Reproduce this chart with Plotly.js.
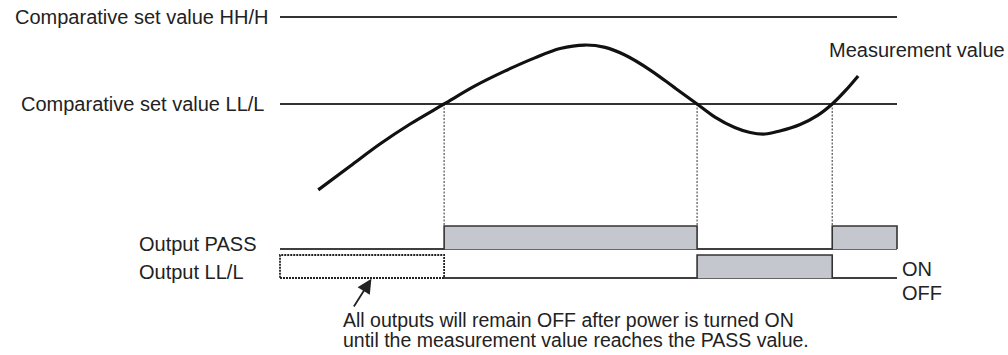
<!DOCTYPE html>
<html>
<head>
<meta charset="utf-8">
<script src="https://cdn.plot.ly/plotly-3.0.1.min.js"></script>
<style>html,body{margin:0;padding:0;background:#fff}#chart{width:1008px;height:355px}</style>
</head>
<body>
<div id="chart"></div>
<script>
// ---- data ----
// measurement curve (time units 0..100, measurement value units)
const timeMeas  = [6.2, 11.4, 16.2, 21.1, 26.6, 31.6, 36.5, 41.3, 45.4, 49.4, 52.7, 55.9, 60.0, 64.0, 67.6, 70.5, 73.7, 76.2, 78.6, 81.0, 84.3, 87.2, 89.5, 91.6, 93.7];
const measValue = [0.5, 11.5, 21.6, 30.8, 40.0, 48.3, 55.2, 61.2, 65.5, 67.1, 66.0, 62.5, 55.6, 47.4, 40.0, 34.0, 29.2, 26.9, 26.2, 27.6, 30.6, 34.9, 40.0, 46.0, 52.9];
// comparative set values
const setHH = 80;
const setLL = 40;
// time span of the diagram
const timeSpan = [0, 100];
// times at which the measurement crosses LL/L
const crossTimes = [26.6, 67.6, 89.5];
// output state change times and states (0 = OFF, 1 = ON)
const stateTimes = [0, 26.6, 67.6, 89.5, 100];
const passState  = [0, 1, 0, 1, 0];
const llState    = [null, 0, 1, 0, 0];   // null = undefined (outputs OFF after power ON)
// text
const labelHH = "Comparative set value HH/H";
const labelLL = "Comparative set value LL/L";
const labelMeas = "Measurement value";
const labelPass = "Output PASS";
const labelOutLL = "Output LL/L";
const noteLines = ["All outputs will remain OFF after power is turned ON",
                   "until the measurement value reaches the PASS value."];

// ---- axes ----
const xRange  = [-45.38, 117.99];
const y1Range = [-75.4, 87.8];
const y2Range = [-4.609, 10.826];
const y3Range = [-3.348, 12.087];
function y2ToY1(v) {
  const f = (v - y2Range[0]) / (y2Range[1] - y2Range[0]);
  return y1Range[0] + f * (y1Range[1] - y1Range[0]);
}

const font = {family: "Liberation Sans, Arial, Helvetica, sans-serif", size: 20, color: "#222"};
const noteFont = {family: "Liberation Sans, Arial, Helvetica, sans-serif", size: 19.5, color: "#222"};
const edge = "#333";
const barFill = "#c4c7ce";

const traces = [];
// set value lines
[setHH, setLL].forEach(v => traces.push({
  x: timeSpan, y: [v, v], mode: "lines", line: {color: edge, width: 2}, hoverinfo: "skip"
}));
// dotted verticals
crossTimes.forEach(t => traces.push({
  x: [t, t], y: [setLL, y2ToY1(1)], mode: "lines",
  line: {color: "#555", width: 1.2, dash: "2px,1.5px"}, hoverinfo: "skip"
}));
// measurement curve
traces.push({
  x: timeMeas, y: measValue, mode: "lines",
  line: {color: "#111", width: 3.2, shape: "spline", smoothing: 1}, hoverinfo: "skip"
});
// PASS output
traces.push({
  x: timeSpan, y: [0, 0], yaxis: "y2", mode: "lines",
  line: {color: edge, width: 1.6}, hoverinfo: "skip"
});
traces.push({
  x: stateTimes, y: passState, yaxis: "y2", mode: "lines",
  line: {color: edge, width: 1.6, shape: "hv"}, fill: "tozeroy", fillcolor: barFill, hoverinfo: "skip"
});
// LL/L output: undefined region (dotted box)
const tA = stateTimes[0], tB = stateTimes[1];
traces.push({
  x: [tA, tB, tB, tA, tA], y: [0, 0, 1, 1, 0], yaxis: "y3", mode: "lines",
  line: {color: "#222", width: 1.8, dash: "2px,1px"}, hoverinfo: "skip"
});
const llT = stateTimes.slice(1), llS = llState.slice(1);
traces.push({
  x: [llT[0], llT[llT.length - 1]], y: [0, 0], yaxis: "y3", mode: "lines",
  line: {color: edge, width: 1.6}, hoverinfo: "skip"
});
traces.push({
  x: llT, y: llS, yaxis: "y3", mode: "lines",
  line: {color: edge, width: 1.6, shape: "hv"}, fill: "tozeroy", fillcolor: barFill, hoverinfo: "skip"
});

const ann = [
  {x: timeSpan[0], y: setHH, xref: "x", yref: "y", text: labelHH, showarrow: false, xanchor: "right", yanchor: "middle", xshift: -10, font: font},
  {x: timeSpan[0], y: setLL, xref: "x", yref: "y", text: labelLL, showarrow: false, xanchor: "right", yanchor: "middle", xshift: -14, font: font},
  {x: 88.6, y: 65, xref: "x", yref: "y", text: labelMeas, showarrow: false, xanchor: "left", yanchor: "middle", font: font},
  {x: 0.136, y: 0.2, xref: "paper", yref: "y2", text: labelPass, showarrow: false, xanchor: "left", yanchor: "middle", font: font},
  {x: 0.136, y: 0.25, xref: "paper", yref: "y3", text: labelOutLL, showarrow: false, xanchor: "left", yanchor: "middle", font: font},
  {x: timeSpan[1], y: 0.4, xref: "x", yref: "y3", text: "ON", showarrow: false, xanchor: "left", yanchor: "middle", xshift: 3, font: font},
  {x: timeSpan[1], y: -0.65, xref: "x", yref: "y3", text: "OFF", showarrow: false, xanchor: "left", yanchor: "middle", xshift: 3, font: font},
  {x: 0.339, y: 0.099, xref: "paper", yref: "paper", text: noteLines[0], showarrow: false, xanchor: "left", yanchor: "middle", borderpad: 0, font: noteFont},
  {x: 0.339, y: 0.043, xref: "paper", yref: "paper", text: noteLines[1], showarrow: false, xanchor: "left", yanchor: "middle", borderpad: 0, font: noteFont},
  {x: 14.9, y: 0, xref: "x", yref: "y3", text: "", showarrow: true, ax: -19, ay: 30,
   arrowhead: 2, arrowsize: 1.6, arrowwidth: 1.8, arrowcolor: "#222", standoff: 1}
];

const hidden = {visible: false, showgrid: false, zeroline: false, fixedrange: true};
const layout = {
  width: 1008, height: 355,
  margin: {l: 0, r: 0, t: 0, b: 0, pad: 0},
  paper_bgcolor: "#fff", plot_bgcolor: "#fff",
  showlegend: false,
  xaxis: Object.assign({range: xRange}, hidden),
  yaxis: Object.assign({range: y1Range}, hidden),
  yaxis2: Object.assign({range: y2Range, overlaying: "y"}, hidden),
  yaxis3: Object.assign({range: y3Range, overlaying: "y"}, hidden),
  annotations: ann
};
Plotly.newPlot("chart", traces, layout, {staticPlot: true, displayModeBar: false});
</script>
</body>
</html>
